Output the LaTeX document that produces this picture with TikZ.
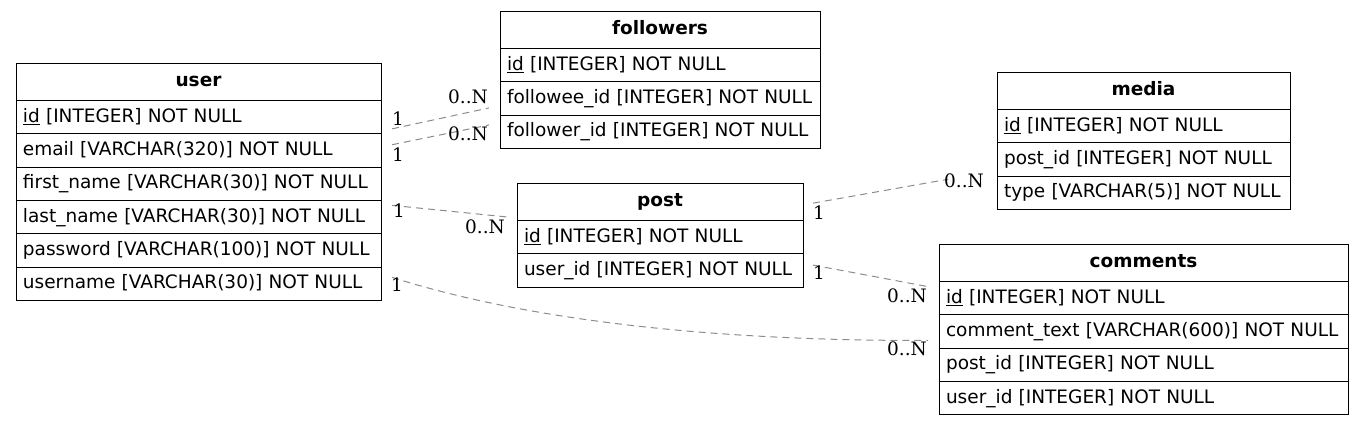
\documentclass[tikz,border=0pt]{standalone}
\usepackage{fontspec}
\setmainfont{DejaVu Sans}
\newfontfamily\cardfont{DejaVu Serif}
\usepackage{tikz}
\usetikzlibrary{positioning}
\tikzstyle{th}=[draw, line width=1pt, font=\fontsize{18.5}{22}\selectfont\bfseries, align=center, inner xsep=7pt, inner ysep=0pt, minimum height=37.5pt, text height=14pt, text depth=4pt, outer sep=0pt]
\tikzstyle{td}=[draw, line width=1pt, font=\fontsize{18.5}{22}\selectfont, align=left, inner xsep=7pt, inner ysep=0pt, minimum height=33.3pt, text height=14pt, text depth=4pt, outer sep=0pt]
\tikzstyle{card}=[font=\cardfont\fontsize{18.5}{22}\selectfont, inner sep=0pt, text height=13pt, text depth=0pt]
\tikzstyle{rel}=[draw=black!45, line width=1pt, dash pattern=on 7pt off 5pt]

\begin{document}
\begin{tikzpicture}[x=1pt, y=-1pt, node distance=0pt]
      \useasboundingbox (0,0) rectangle (1364,426);
      % user
      \begin{scope}[every node/.append style={text width=351pt}]
      \node [th, anchor=north west] (user) at (16,63) {user};
      \node [td, below=of user] (user-id) {\underline{id} [INTEGER] NOT NULL};
      \node [td, below=of user-id] (user-email) {email [VARCHAR(320)] NOT NULL};
      \node [td, below=of user-email] (user-first) {first\_name [VARCHAR(30)] NOT NULL};
      \node [td, below=of user-first] (user-last) {last\_name [VARCHAR(30)] NOT NULL};
      \node [td, below=of user-last] (user-pass) {password [VARCHAR(100)] NOT NULL};
      \node [td, below=of user-pass] (user-name) {username [VARCHAR(30)] NOT NULL};
      \end{scope}
      % followers
      \begin{scope}[every node/.append style={text width=306pt}]
      \node [th, anchor=north west] (fol) at (500,11) {followers};
      \node [td, below=of fol] (fol-id) {\underline{id} [INTEGER] NOT NULL};
      \node [td, below=of fol-id] (fol-ee) {followee\_id [INTEGER] NOT NULL};
      \node [td, below=of fol-ee] (fol-er) {follower\_id [INTEGER] NOT NULL};
      \end{scope}
      % post
      \begin{scope}[every node/.append style={text width=272pt}]
      \node [th, anchor=north west] (post) at (517,183) {post};
      \node [td, below=of post] (post-id) {\underline{id} [INTEGER] NOT NULL};
      \node [td, below=of post-id] (post-uid) {user\_id [INTEGER] NOT NULL};
      \end{scope}
      % media
      \begin{scope}[every node/.append style={text width=279pt}]
      \node [th, anchor=north west] (media) at (997,72) {media};
      \node [td, below=of media] (media-id) {\underline{id} [INTEGER] NOT NULL};
      \node [td, below=of media-id] (media-pid) {post\_id [INTEGER] NOT NULL};
      \node [td, below=of media-pid] (media-type) {type [VARCHAR(5)] NOT NULL};
      \end{scope}
      % comments
      \begin{scope}[every node/.append style={text width=395pt}]
      \node [th, anchor=north west] (com) at (939,244) {comments};
      \node [td, below=of com] (com-id) {\underline{id} [INTEGER] NOT NULL};
      \node [td, below=of com-id] (com-text) {comment\_text [VARCHAR(600)] NOT NULL};
      \node [td, below=of com-text] (com-pid) {post\_id [INTEGER] NOT NULL};
      \node [td, below=of com-pid] (com-uid) {user\_id [INTEGER] NOT NULL};
      \end{scope}
      % relations
      \path [rel]
      ([shift={(11,11.7)}]user-id.east) -- node [card, pos=0, shift={(6,-10)}] {1}
          node [card, pos=1, shift={(-21,-11)}] {0..N} ([shift={(-11,9.5)}]fol-ee.west)
      ([shift={(11,-5.7)}]user-email.east) -- node [card, pos=0, shift={(6,10)}] {1}
          node [card, pos=1, shift={(-21,9)}] {0..N} ([shift={(-11,-6.8)}]fol-er.west)
      ([shift={(11,-11.7)}]user-last.east) -- node [card, pos=0, shift={(7,6)}] {1}
          node [card, pos=1, shift={(-22,10)}] {0..N} ([shift={(-10,-20.2)}]post-id.west)
      ([shift={(11,-6.3)}]user-name.east) .. controls (520,318) and (700,341) ..
          node [card, pos=0, shift={(5,8)}] {1}
          node [card, pos=1, shift={(-21,9)}] {0..N} ([shift={(-11,9)}]com-text.west)
      ([shift={(10,1.4)}]post.east) -- node [card, pos=0, shift={(6,10)}] {1}
          node [card, pos=1, shift={(16,2)}] {0..N} ([shift={(-49,-13.5)}]media-type.west)
      ([shift={(10,-5.4)}]post-uid.east) -- node [card, pos=0, shift={(6,8)}] {1}
          node [card, pos=1, shift={(-20,10)}] {0..N} ([shift={(-12,-11.7)}]com-id.west);
\end{tikzpicture}
\end{document}
